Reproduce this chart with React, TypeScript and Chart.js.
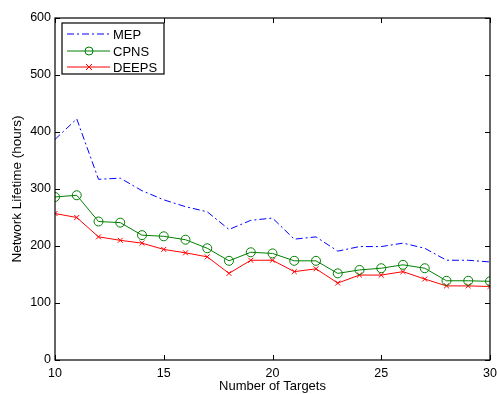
import React, { useEffect, useRef } from "react";
import { Chart, registerables } from "chart.js";

Chart.register(...registerables);

const targets = [10, 11, 12, 13, 14, 15, 16, 17, 18, 19, 20, 21, 22, 23, 24, 25, 26, 27, 28, 29, 30];
const mep = [387, 423, 317, 319, 297, 281, 269, 260, 229, 245, 249, 212, 216, 191, 199, 199, 205, 196, 175, 175, 172];
const cpns = [286, 289, 243, 241, 219, 217, 211, 196, 174, 189, 187, 174, 174, 152, 158, 161, 167, 161, 139, 139, 138];
const deeps = [257, 250, 216, 210, 205, 194, 188, 181, 152, 175, 175, 155, 160, 135, 149, 149, 155, 142, 130, 130, 129];
const xTicks = [10, 15, 20, 25, 30];
const yTicks = [0, 100, 200, 300, 400, 500, 600];
const seriesNames = ["MEP", "CPNS", "DEEPS"];

const FONT = '"Liberation Sans", Arial, Helvetica, sans-serif';
const COLORS = ["#0000ff", "#008000", "#ff0000"];

const boxPlugin = {
  id: "matlabBox",
  afterDraw(chart: any) {
    const { ctx, chartArea, scales } = chart;
    const { left, right, top, bottom } = chartArea;
    ctx.save();
    ctx.strokeStyle = "#000";
    ctx.lineWidth = 1.2;
    ctx.strokeRect(left, top, right - left, bottom - top);
    ctx.lineWidth = 1;
    const tl = 5;
    ctx.beginPath();
    xTicks.forEach((v) => {
      const px = Math.round(scales.x.getPixelForValue(v)) + 0.5;
      ctx.moveTo(px, bottom);
      ctx.lineTo(px, bottom - tl);
      ctx.moveTo(px, top);
      ctx.lineTo(px, top + tl);
    });
    yTicks.forEach((v) => {
      const py = Math.round(scales.y.getPixelForValue(v)) + 0.5;
      ctx.moveTo(left, py);
      ctx.lineTo(left + tl, py);
      ctx.moveTo(right, py);
      ctx.lineTo(right - tl, py);
    });
    ctx.stroke();

    // legend
    const bx = 62, by = 23, bw = 102, bh = 51;
    ctx.fillStyle = "#fff";
    ctx.fillRect(bx, by, bw, bh);
    ctx.strokeStyle = "#000";
    ctx.lineWidth = 1.2;
    ctx.strokeRect(bx, by, bw, bh);
    const rows = [34, 51, 67];
    chart.data.datasets.forEach((ds: any, i: number) => {
      const y = rows[i];
      ctx.save();
      ctx.strokeStyle = ds.borderColor;
      ctx.lineWidth = 1;
      ctx.setLineDash(ds.borderDash || []);
      ctx.beginPath();
      ctx.moveTo(67, y);
      ctx.lineTo(110, y);
      ctx.stroke();
      ctx.setLineDash([]);
      if (i === 1) {
        ctx.beginPath();
        ctx.arc(89, y, 4, 0, Math.PI * 2);
        ctx.stroke();
      } else if (i === 2) {
        ctx.beginPath();
        ctx.moveTo(86, y - 3);
        ctx.lineTo(92, y + 3);
        ctx.moveTo(92, y - 3);
        ctx.lineTo(86, y + 3);
        ctx.stroke();
      }
      ctx.restore();
      ctx.fillStyle = "#000";
      ctx.font = `13px ${FONT}`;
      ctx.textBaseline = "middle";
      ctx.textAlign = "left";
      ctx.fillText(ds.label, 113, y + 1);
    });
    ctx.restore();
  },
};

export default function App() {
  const ref = useRef<HTMLCanvasElement>(null);
  useEffect(() => {
    if (!ref.current) return;
    const mk = (arr: number[]) => targets.map((x, i) => ({ x, y: arr[i] }));
    const chart = new Chart(ref.current, {
      type: "line",
      data: {
        datasets: [
          {
            label: seriesNames[0],
            data: mk(mep),
            borderColor: COLORS[0],
            borderWidth: 1,
            borderDash: [7, 3, 2, 3],
            pointRadius: 0,
            fill: false,
            tension: 0,
          },
          {
            label: seriesNames[1],
            data: mk(cpns),
            borderColor: COLORS[1],
            borderWidth: 1,
            pointStyle: "circle",
            pointRadius: 4.5,
            pointBorderColor: COLORS[1],
            pointBackgroundColor: "rgba(0,0,0,0)",
            pointBorderWidth: 1,
            fill: false,
            tension: 0,
          },
          {
            label: seriesNames[2],
            data: mk(deeps),
            borderColor: COLORS[2],
            borderWidth: 1,
            pointStyle: "crossRot",
            pointRadius: 3.5,
            pointBorderColor: COLORS[2],
            pointBorderWidth: 1,
            fill: false,
            tension: 0,
          },
        ],
      },
      options: {
        responsive: false,
        animation: false,
        devicePixelRatio: 1,
        layout: { padding: { left: 0, right: 7, top: 18, bottom: 0 } },
        plugins: {
          legend: { display: false },
          tooltip: { enabled: false },
        },
        scales: {
          x: {
            type: "linear",
            min: 10,
            max: 30,
            afterFit: (s: any) => {
              s.height = 34;
              s.paddingLeft = 0;
              s.paddingRight = 0;
            },
            afterBuildTicks: (s: any) => {
              s.ticks = xTicks.map((v) => ({ value: v }));
            },
            grid: { display: false, drawTicks: false },
            border: { display: false },
            ticks: {
              color: "#000",
              padding: 6,
              maxRotation: 0,
              autoSkip: false,
              font: { family: FONT, size: 12.5 },
            },
            title: {
              display: true,
              text: "Number of Targets",
              color: "#000",
              padding: { top: 0, bottom: 0 },
              font: { family: FONT, size: 13 },
            },
          },
          y: {
            type: "linear",
            min: 0,
            max: 600,
            afterFit: (s: any) => {
              s.width = 55;
              s.paddingTop = 0;
              s.paddingBottom = 0;
            },
            afterBuildTicks: (s: any) => {
              s.ticks = yTicks.map((v) => ({ value: v }));
            },
            grid: { display: false, drawTicks: false },
            border: { display: false },
            ticks: {
              color: "#000",
              padding: 4,
              autoSkip: false,
              font: { family: FONT, size: 12.5 },
            },
            title: {
              display: true,
              text: "Network Lifetime (hours)",
              color: "#000",
              padding: { top: 9, bottom: 0 },
              font: { family: FONT, size: 13.5 },
            },
          },
        },
      },
      plugins: [boxPlugin],
    } as any);
    return () => chart.destroy();
  }, []);

  return (
    <div style={{ position: "absolute", left: 0, top: 0, width: 497, height: 394, background: "#fff" }}>
      <canvas ref={ref} width={497} height={394} style={{ display: "block" }} />
    </div>
  );
}
